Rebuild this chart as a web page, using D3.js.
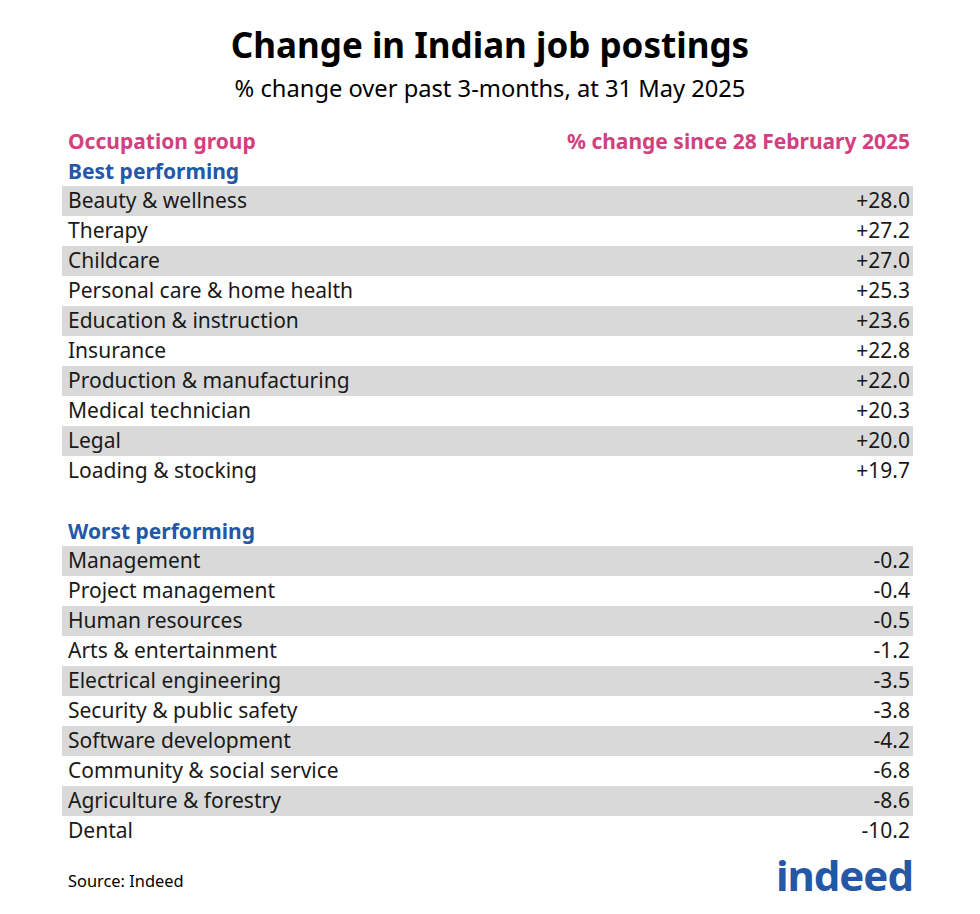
<!DOCTYPE html>
<html><head><meta charset="utf-8">
<script src="https://cdn.jsdelivr.net/npm/d3@7"></script>
<style>body{margin:0;background:#fff;font-family:"Noto Sans",sans-serif}</style>
</head><body><svg id="chart" width="980" height="914"></svg>
<script>
const bestNames = ["Beauty & wellness","Therapy","Childcare","Personal care & home health","Education & instruction","Insurance","Production & manufacturing","Medical technician","Legal","Loading & stocking"];
const bestValues = [28.0,27.2,27.0,25.3,23.6,22.8,22.0,20.3,20.0,19.7];
const worstNames = ["Management","Project management","Human resources","Arts & entertainment","Electrical engineering","Security & public safety","Software development","Community & social service","Agriculture & forestry","Dental"];
const worstValues = [-0.2,-0.4,-0.5,-1.2,-3.5,-3.8,-4.2,-6.8,-8.6,-10.2];

const svg = d3.select("#chart");
const left = 62, right = 913;
const blue = "#2557a7", pink = "#d0417e";

svg.append("text").attr("x",490).attr("y",58).attr("text-anchor","middle")
  .attr("font-size",35).attr("font-weight","bold").text("Change in Indian job postings");
svg.append("text").attr("x",490).attr("y",97).attr("text-anchor","middle")
  .attr("font-size",23.7).text("% change over past 3-months, at 31 May 2025");

svg.append("text").attr("x",68).attr("y",149).attr("fill",pink).attr("font-size",21).attr("font-weight","bold").text("Occupation group");
svg.append("text").attr("x",910).attr("y",149).attr("text-anchor","end").attr("fill",pink).attr("font-size",21).attr("font-weight","bold").text("% change since 28 February 2025");

function block(title, titleY, top, names, values) {
  svg.append("text").attr("x",68).attr("y",titleY).attr("fill",blue).attr("font-size",21).attr("font-weight","bold").text(title);
  const y = d3.scaleBand().domain(names).range([top, top + names.length*30]);
  const g = svg.append("g");
  const rows = g.selectAll("g").data(names).join("g");
  rows.filter((d,i) => i % 2 === 0).append("rect")
    .attr("x",left).attr("width",right-left).attr("y",d => y(d)).attr("height",y.bandwidth()).attr("fill","#d9d9d9");
  rows.append("text").attr("x",68).attr("y",d => y(d)+22).attr("font-size",21).attr("fill","#1a1a1a").text(d => d);
  rows.append("text").attr("x",910).attr("y",d => y(d)+22).attr("text-anchor","end").attr("font-size",21).attr("fill","#1a1a1a")
    .text((d,i) => (values[i] > 0 ? "+" : "") + values[i].toFixed(1));
}
block("Best performing", 179, 186, bestNames, bestValues);
block("Worst performing", 539, 546, worstNames, worstValues);

svg.append("text").attr("x",68).attr("y",887).attr("font-size",16.4).text("Source: Indeed");
svg.append("text").attr("x",913).attr("y",891).attr("text-anchor","end").attr("fill",blue)
  .attr("font-size",42).attr("font-weight","bold").attr("letter-spacing",-1).text("indeed");
</script></body></html>
